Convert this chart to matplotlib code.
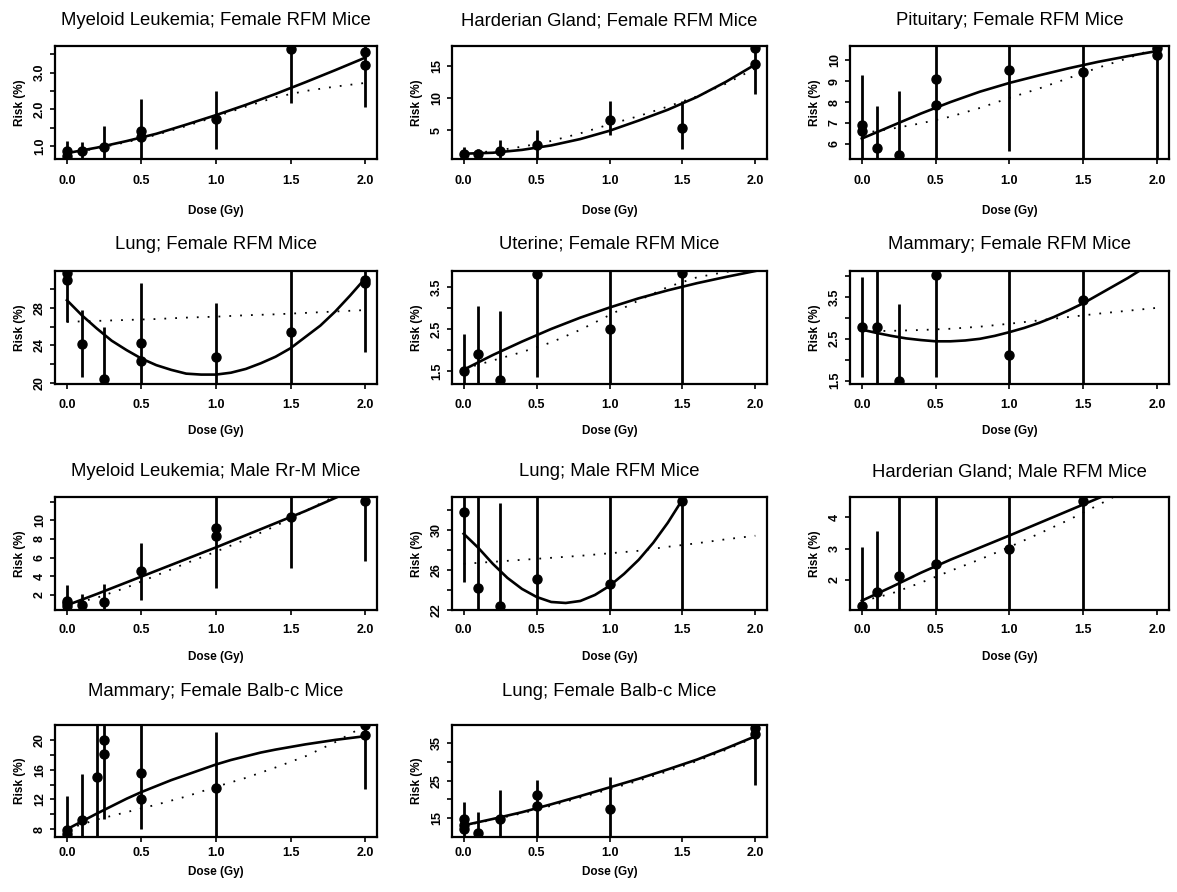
import matplotlib
matplotlib.use("Agg")
import matplotlib.pyplot as plt

plt.rcParams['font.family'] = ['Liberation Sans', 'DejaVu Sans']

grid_c = [0.0, 0.2, 0.4, 0.6, 0.8, 1.0, 1.2, 1.4, 1.6, 1.8, 2.0]
grid_f = [0.0, 0.1, 0.2, 0.3, 0.4, 0.5, 0.6, 0.7, 0.8, 0.9, 1.0,
          1.1, 1.2, 1.3, 1.4, 1.5, 1.6, 1.7, 1.8, 1.9, 2.0]
x_ticks = [0.0, 0.5, 1.0, 1.5, 2.0]

# 1 - myeloid leukemia, female RFM
t1 = "Myeloid Leukemia; Female RFM Mice"
d1 = [0, 0, 0.1, 0.25, 0.5, 0.5, 1.0, 1.5, 2.0, 2.0]
r1 = [0.86, 0.73, 0.86, 0.97, 1.41, 1.23, 1.73, 3.65, 3.56, 3.20]
bd1 = [0, 0.1, 0.25, 0.5, 1.0, 1.5, 2.0]
lo1 = [0.5, 0.5, 0.5, 0.5, 0.91, 2.18, 2.07]
hi1 = [1.14, 1.11, 1.55, 2.27, 2.5, 4.5, 4.5]
fit1 = [0.80, 0.95, 1.13, 1.33, 1.58, 1.84, 2.12, 2.42, 2.74, 3.07, 3.41]
lin1 = [0.78, 0.93, 1.10, 1.30, 1.54, 1.80, 2.07, 2.33, 2.50, 2.62, 2.72]
yt1 = [1.0, 1.5, 2.0, 2.5, 3.0, 3.5]
yl1 = ["1.0", "", "2.0", "", "3.0", ""]

# 2 - harderian gland, female RFM
t2 = "Harderian Gland; Female RFM Mice"
d2 = [0, 0.1, 0.25, 0.5, 1.0, 1.5, 2.0, 2.0]
r2 = [1.25, 1.3, 1.65, 2.7, 6.6, 5.3, 17.9, 15.4]
bd2 = [0, 0.1, 0.25, 0.5, 1.0, 1.5, 2.0]
lo2 = [0.0, 0.0, 0.0, 0.0, 4.2, 2.0, 10.6]
hi2 = [2.3, 2.1, 3.4, 5.0, 9.6, 9.5, 20.0]
fit2 = [1.3, 1.45, 1.9, 2.6, 3.6, 4.9, 6.5, 8.2, 10.2, 12.6, 15.3]
lin2 = [1.3, 1.7, 2.4, 3.3, 4.5, 5.9, 7.2, 8.7, 10.3, 12.3, 14.7]
yt2 = [5, 10, 15]
yl2 = ["5", "10", "15"]

# 3 - pituitary, female RFM
t3 = "Pituitary; Female RFM Mice"
d3 = [0, 0, 0.1, 0.25, 0.5, 0.5, 1.0, 1.5, 2.0, 2.0]
r3 = [6.92, 6.6, 5.79, 5.47, 9.13, 7.85, 9.53, 9.42, 10.58, 10.26]
bd3 = [0, 0.1, 0.25, 0.5, 1.0, 1.5, 2.0]
lo3 = [5.0, 5.0, 5.0, 5.0, 5.66, 5.0, 5.0]
hi3 = [9.3, 7.8, 8.53, 11.0, 11.0, 11.0, 11.0]
fit3 = [6.25, 6.85, 7.45, 8.0, 8.5, 8.92, 9.28, 9.62, 9.93, 10.2, 10.45]
lin3 = [6.5, 6.72, 6.98, 7.3, 7.72, 8.2, 8.65, 9.15, 9.65, 10.1, 10.6]
yt3 = [6, 7, 8, 9, 10]
yl3 = ["6", "7", "8", "9", "10"]

# 4 - lung, female RFM
t4 = "Lung; Female RFM Mice"
d4 = [0, 0, 0.1, 0.25, 0.5, 0.5, 1.0, 1.5, 2.0, 2.0]
r4 = [31.7, 30.9, 24.2, 20.4, 24.3, 22.3, 22.8, 25.4, 30.9, 30.6]
bd4 = [0, 0.1, 0.25, 0.5, 1.0, 1.5, 2.0]
lo4 = [26.5, 20.6, 19.0, 19.0, 19.0, 19.0, 23.3]
hi4 = [33.0, 27.75, 26.0, 30.6, 28.5, 33.0, 33.0]
fit4 = [28.8, 27.2, 25.8, 24.5, 23.5, 22.6, 21.9, 21.4, 21.0, 20.9, 20.9,
        21.1, 21.5, 22.1, 22.8, 23.7, 24.9, 26.1, 27.6, 29.3, 31.1]
lin4 = [26.5, 26.6, 26.7, 26.8, 26.95, 27.05, 27.2, 27.3, 27.45, 27.6, 27.75]
yt4 = [20, 22, 24, 26, 28, 30]
yl4 = ["20", "", "24", "", "28", ""]

# 5 - uterine, female RFM
t5 = "Uterine; Female RFM Mice"
d5 = [0, 0.1, 0.25, 0.5, 1.0, 1.5]
r5 = [1.5, 1.91, 1.29, 3.81, 2.49, 3.83]
bd5 = [0, 0.1, 0.25, 0.5, 1.0, 1.5]
lo5 = [1.0, 1.0, 1.0, 1.36, 1.0, 1.0]
hi5 = [2.37, 3.04, 2.93, 4.2, 4.2, 4.2]
fit5 = [1.53, 1.88, 2.2, 2.5, 2.77, 3.01, 3.23, 3.42, 3.59, 3.74, 3.88]
lin5 = [1.55, 1.75, 1.95, 2.18, 2.48, 2.83, 3.18, 3.5, 3.73, 3.86, 3.92]
yt5 = [1.5, 2.0, 2.5, 3.0, 3.5]
yl5 = ["1.5", "", "2.5", "", "3.5"]

# 6 - mammary, female RFM
t6 = "Mammary; Female RFM Mice"
d6 = [0, 0.1, 0.25, 0.5, 1.0, 1.5]
r6 = [2.78, 2.78, 1.48, 4.03, 2.11, 3.42]
bd6 = [0, 0.1, 0.25, 0.5, 1.0, 1.5]
lo6 = [1.58, 1.2, 1.2, 1.58, 1.2, 1.2]
hi6 = [3.98, 4.5, 3.32, 4.5, 4.5, 4.5]
fit6 = [2.72, 2.64, 2.57, 2.51, 2.47, 2.44, 2.44, 2.46, 2.5, 2.57, 2.66,
        2.76, 2.88, 3.02, 3.18, 3.35, 3.55, 3.75, 3.95, 4.17, 4.42]
lin6 = [2.68, 2.69, 2.71, 2.74, 2.79, 2.86, 2.94, 3.02, 3.1, 3.17, 3.24]
yt6 = [1.5, 2.0, 2.5, 3.0, 3.5, 4.0]
yl6 = ["1.5", "", "2.5", "", "3.5", ""]

# 7 - myeloid leukemia, male RFM
t7 = "Myeloid Leukemia; Male Rr-M Mice"
d7 = [0, 0, 0, 0.1, 0.25, 0.5, 1.0, 1.0, 1.5, 2.0]
r7 = [1.4, 1.1, 0.8, 0.95, 1.3, 4.6, 9.2, 8.3, 10.4, 12.1]
bd7 = [0, 0.1, 0.25, 0.5, 1.0, 1.5, 2.0]
lo7 = [0.0, 0.0, 0.0, 1.5, 2.7, 4.9, 5.6]
hi7 = [3.07, 2.07, 3.14, 7.6, 13.0, 13.0, 13.0]
fit7 = [0.9, 2.1, 3.35, 4.6, 5.85, 7.1, 8.4, 9.7, 11.0, 12.4, 13.8]
lin7 = [0.9, 1.7, 2.8, 4.1, 5.4, 6.65, 7.95, 9.4, 11.0, 12.6, 14.2]
yt7 = [2, 4, 6, 8, 10, 12]
yl7 = ["2", "4", "6", "8", "10", ""]

# 8 - lung, male RFM
t8 = "Lung; Male RFM Mice"
d8 = [0, 0.1, 0.25, 0.5, 1.0, 1.5]
r8 = [31.8, 24.2, 22.4, 25.1, 24.6, 32.9]
bd8 = [0, 0.1, 0.25, 0.5, 1.0, 1.5]
lo8 = [24.8, 21.0, 21.0, 21.0, 21.0, 21.0]
hi8 = [34.0, 34.0, 32.7, 34.0, 34.0, 34.0]
fit8 = [29.6, 28.2, 26.6, 25.2, 24.1, 23.3, 22.8, 22.7, 22.9, 23.5, 24.4,
        25.6, 27.0, 28.7, 30.7, 33.0, 35.5, 38.2, 41.0, 44.0, 47.0]
lin8 = [26.6, 26.8, 27.0, 27.2, 27.4, 27.65, 27.9, 28.3, 28.65, 29.05, 29.4]
yt8 = [22, 24, 26, 28, 30, 32]
yl8 = ["22", "", "26", "", "30", ""]

# 9 - harderian gland, male RFM
t9 = "Harderian Gland; Male RFM Mice"
d9 = [0, 0.1, 0.25, 0.5, 1.0, 1.5]
r9 = [1.15, 1.6, 2.1, 2.5, 3.0, 4.53]
bd9 = [0, 0.1, 0.25, 0.5, 1.0, 1.5]
lo9 = [0.5, 0.5, 0.5, 0.5, 0.5, 0.5]
hi9 = [3.04, 3.55, 5.0, 5.0, 5.0, 5.0]
fit9 = [1.32, 1.76, 2.22, 2.64, 3.03, 3.42, 3.82, 4.22, 4.62, 5.02, 5.42]
lin9 = [1.3, 1.55, 1.9, 2.28, 2.65, 3.05, 3.48, 3.92, 4.4, 4.9, 5.4]
yt9 = [2, 3, 4]
yl9 = ["2", "3", "4"]

# 10 - mammary, female Balb-c
t10 = "Mammary; Female Balb-c Mice"
d10 = [0, 0, 0.1, 0.2, 0.25, 0.25, 0.5, 0.5, 1.0, 2.0, 2.0]
r10 = [7.9, 7.4, 9.2, 15.0, 20.0, 18.1, 15.6, 12.1, 13.6, 22.0, 20.6]
bd10 = [0, 0.1, 0.2, 0.25, 0.5, 1.0, 2.0]
lo10 = [6.5, 6.5, 6.5, 9.4, 8.0, 6.5, 13.4]
hi10 = [12.5, 15.4, 23.0, 23.0, 23.0, 21.0, 23.0]
fit10 = [8.0, 9.05, 10.1, 11.1, 12.1, 13.0, 13.8, 14.6, 15.3, 16.0, 16.7,
         17.3, 17.8, 18.3, 18.7, 19.05, 19.4, 19.7, 20.0, 20.25, 20.5]
lin10 = [8.0, 9.3, 10.3, 11.3, 12.4, 13.7, 14.9, 16.3, 17.8, 19.7, 21.9]
yt10 = [8, 10, 12, 14, 16, 18, 20]
yl10 = ["8", "", "12", "", "16", "", "20"]

# 11 - lung, female Balb-c
t11 = "Lung; Female Balb-c Mice"
d11 = [0, 0, 0, 0.1, 0.25, 0.5, 0.5, 1.0, 2.0, 2.0]
r11 = [14.7, 13.1, 12.0, 11.1, 14.8, 21.2, 18.2, 17.5, 39.1, 37.4]
bd11 = [0, 0.1, 0.25, 0.5, 1.0, 2.0]
lo11 = [9.0, 9.0, 9.0, 9.0, 9.0, 23.8]
hi11 = [19.4, 16.75, 22.5, 25.2, 26.0, 41.0]
fit11 = [13.1, 14.8, 16.6, 18.7, 20.9, 23.2, 25.5, 28.0, 30.6, 33.6, 36.8]
lin11 = [13.0, 14.6, 16.3, 18.3, 20.5, 22.7, 25.0, 27.5, 30.2, 33.2, 36.6]
yt11 = [15, 20, 25, 30, 35]
yl11 = ["15", "", "25", "", "35"]

panels = [
    (t1, d1, r1, bd1, lo1, hi1, grid_c, fit1, lin1, yt1, yl1),
    (t2, d2, r2, bd2, lo2, hi2, grid_c, fit2, lin2, yt2, yl2),
    (t3, d3, r3, bd3, lo3, hi3, grid_c, fit3, lin3, yt3, yl3),
    (t4, d4, r4, bd4, lo4, hi4, grid_f, fit4, lin4, yt4, yl4),
    (t5, d5, r5, bd5, lo5, hi5, grid_c, fit5, lin5, yt5, yl5),
    (t6, d6, r6, bd6, lo6, hi6, grid_f, fit6, lin6, yt6, yl6),
    (t7, d7, r7, bd7, lo7, hi7, grid_c, fit7, lin7, yt7, yl7),
    (t8, d8, r8, bd8, lo8, hi8, grid_f, fit8, lin8, yt8, yl8),
    (t9, d9, r9, bd9, lo9, hi9, grid_c, fit9, lin9, yt9, yl9),
    (t10, d10, r10, bd10, lo10, hi10, grid_f, fit10, lin10, yt10, yl10),
    (t11, d11, r11, bd11, lo11, hi11, grid_c, fit11, lin11, yt11, yl11),
]

# axis ranges (R style: 4% padding around the point estimates)
ylims = [(0.64, 3.73), (0.47, 18.2), (5.27, 10.69), (19.9, 31.9),
         (1.19, 3.88), (1.42, 4.12), (0.39, 12.5), (22.0, 33.26),
         (1.02, 4.66), (6.96, 22.0), (10.0, 39.8)]

W, H = 1177, 892
col_left = [55, 452, 850]
col_right = [377, 767, 1169]
row_top = [46, 271, 497, 725]
row_bot = [159, 384, 610, 837]
# per-row distances (px) below the axes of tick labels and x label
tick_off = [21, 20, 19, 15]
xlab_off = [52, 47, 47, 35]
title_pad = [15, 16, 15, 21]

fig = plt.figure(figsize=(W / 100, H / 100), dpi=100)

for i, (title, d, r, bd, lo, hi, fgrid, fit, lin, yt, yl) in enumerate(panels):
    row, col = divmod(i, 3)
    l, rgt = col_left[col], col_right[col]
    top, bot = row_top[row], row_bot[row]
    ax = fig.add_axes([l / W, 1 - bot / H, (rgt - l) / W, (bot - top) / H])

    ax.vlines(bd, lo, hi, color='black', lw=2.0)
    ax.plot(grid_c, lin, color='black', lw=1.3, linestyle=(0, (1, 5)))
    ax.plot(fgrid, fit, color='black', lw=1.9)
    ax.plot(d, r, 'o', color='black', ms=6.5)

    ax.set_xlim(-0.08, 2.08)
    ax.set_ylim(*ylims[i])
    ax.set_xticks(x_ticks)
    ax.set_xticklabels(["%.1f" % v for v in x_ticks], fontweight='bold')
    ax.set_yticks(yt)
    ax.set_yticklabels(yl, fontweight='bold', rotation=90, va='center')
    ax.tick_params(direction='out', length=3.5, width=1.2, labelsize=9)
    ax.tick_params(axis='x', pad=(tick_off[row] - 10) / 1.389)
    ax.tick_params(axis='y', pad=3)
    for sp in ax.spines.values():
        sp.set_linewidth(1.6)

    ax.set_title(title, fontsize=13.3, pad=title_pad[row])
    ax.set_xlabel("Dose (Gy)", fontsize=8.5, fontweight='bold', va='center')
    ax.xaxis.set_label_coords(0.5, -xlab_off[row] / (bot - top))
    ax.set_ylabel("Risk (%)", fontsize=8.5, fontweight='bold', labelpad=6)

fig.savefig("out.png", dpi=100)
